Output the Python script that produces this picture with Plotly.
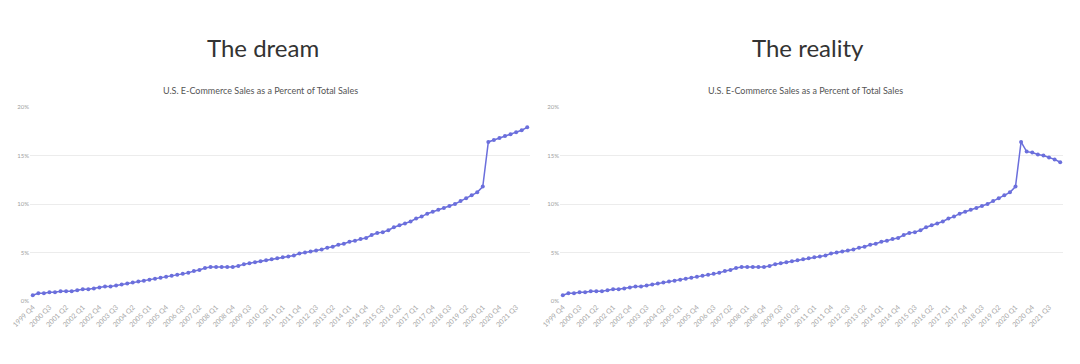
import plotly.graph_objects as go

# Quarters 1999 Q4 .. 2022 Q1
quarters = ["1999 Q4"] + [f"{y} Q{q}" for y in range(2000, 2022) for q in range(1, 5)] + ["2022 Q1"]

# Shared history 1999 Q4 .. 2020 Q1 (percent)
history = [0.6,
           0.8, 0.8, 0.9, 0.9,
           1.0, 1.0, 1.0, 1.1,
           1.2, 1.2, 1.3, 1.4,
           1.5, 1.5, 1.6, 1.7,
           1.8, 1.9, 2.0, 2.1,
           2.2, 2.3, 2.4, 2.5,
           2.6, 2.7, 2.8, 2.9,
           3.1, 3.2, 3.4, 3.5,
           3.5, 3.5, 3.5, 3.5,
           3.6, 3.8, 3.9, 4.0,
           4.1, 4.2, 4.3, 4.4,
           4.5, 4.6, 4.7, 4.9,
           5.0, 5.1, 5.2, 5.3,
           5.5, 5.6, 5.8, 5.9,
           6.1, 6.2, 6.4, 6.5,
           6.8, 7.0, 7.1, 7.3,
           7.6, 7.8, 8.0, 8.2,
           8.5, 8.7, 9.0, 9.2,
           9.4, 9.6, 9.8, 10.0,
           10.3, 10.6, 10.9, 11.2,
           11.8]

# 2020 Q2 .. 2022 Q1
dream_tail = [16.4, 16.6, 16.8, 17.0, 17.2, 17.4, 17.6, 17.9]
reality_tail = [16.4, 15.4, 15.3, 15.1, 15.0, 14.8, 14.6, 14.3]

dream = history + dream_tail
reality = history + reality_tail

y_ticks = [0, 5, 10, 15, 20]
x_tickvals = quarters[::3]

LINE = "#6b6fdc"

fig = go.Figure()
fig.add_trace(go.Scatter(x=quarters, y=dream, mode="lines+markers",
                         line=dict(color=LINE, width=1.5),
                         marker=dict(color=LINE, size=4),
                         xaxis="x", yaxis="y", showlegend=False))
fig.add_trace(go.Scatter(x=quarters, y=reality, mode="lines+markers",
                         line=dict(color=LINE, width=1.5),
                         marker=dict(color=LINE, size=4),
                         xaxis="x2", yaxis="y2", showlegend=False))

xtickfont = dict(family="Lato, Open Sans, sans-serif", size=7, color="#a8a8a8")
ytickfont = dict(family="Lato, Open Sans, sans-serif", size=6, color="#a0a0a0")

xcommon = dict(type="category", categoryorder="array", categoryarray=quarters,
               range=[-0.5, len(quarters) - 0.5],
               tickmode="array", tickvals=x_tickvals, ticktext=x_tickvals,
               tickangle=-45, tickfont=xtickfont, showgrid=False,
               showline=False, zeroline=False, ticks="", automargin=False)
ycommon = dict(range=[0, 20], tickmode="array", tickvals=y_ticks,
               ticktext=[f"{v}%" for v in y_ticks], tickfont=ytickfont,
               showgrid=True, gridcolor="#ececec", gridwidth=1,
               zeroline=False, showline=False, ticks="", automargin=False)

fig.update_layout(
    width=1080, height=364,
    margin=dict(l=0, r=0, t=107, b=63),
    paper_bgcolor="white", plot_bgcolor="white",
    xaxis=dict(domain=[30 / 1080, 530 / 1080], anchor="y", **xcommon),
    yaxis=dict(domain=[0, 1], anchor="x", **ycommon),
    xaxis2=dict(domain=[560 / 1080, 1063 / 1080], anchor="y2", **xcommon),
    yaxis2=dict(domain=[0, 1], anchor="x2", **ycommon),
)

title_font = dict(family="Lato, sans-serif", size=24, color="#333333")
sub_font = dict(family="Lato, Open Sans, sans-serif", size=9, color="#555")

plot_h = 364 - 107 - 63


def py(pixel_y):
    return (364 - 63 - pixel_y) / plot_h


for cx, title in [(263 / 1080, "The dream"), (808 / 1080, "The reality")]:
    fig.add_annotation(text=title, x=cx, y=py(47), xref="paper", yref="paper",
                       showarrow=False, font=title_font, xanchor="center", yanchor="middle")
    fig.add_annotation(text="U.S. E-Commerce Sales as a Percent of Total Sales",
                       x=cx - 3 / 1080, y=py(90), xref="paper", yref="paper",
                       showarrow=False, font=sub_font, xanchor="center", yanchor="middle")

fig.write_html("out.html", config={"displayModeBar": False},
               post_script="document.body.style.margin='0';document.body.style.overflow='hidden';")
